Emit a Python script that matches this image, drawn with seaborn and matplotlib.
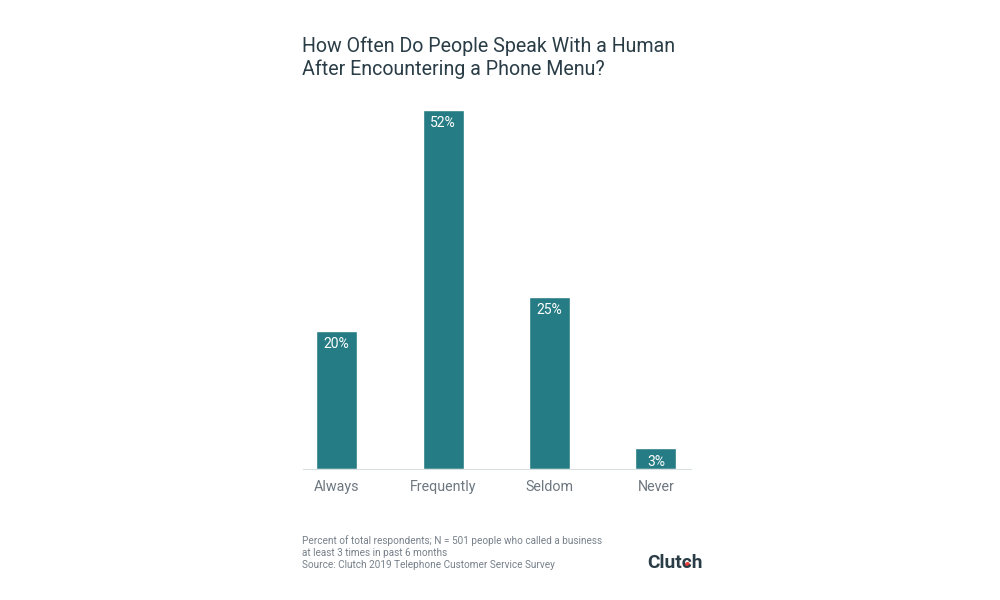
import pandas as pd
import seaborn as sns
import matplotlib.pyplot as plt
from matplotlib.lines import Line2D

categories = ["Always", "Frequently", "Seldom", "Never"]
values = [20, 52, 25, 3]
value_labels = ["20%", "52%", "25%", "3%"]

title = "How Often Do People Speak With a Human\nAfter Encountering a Phone Menu?"
footnote = ("Percent of total respondents; N = 501 people who called a business\n"
            "at least 3 times in past 6 months\n"
            "Source: Clutch 2019 Telephone Customer Service Survey")

sns.set_theme(style="white")
plt.rcParams["font.family"] = ["Roboto", "DejaVu Sans"]

df = pd.DataFrame({"answer": categories, "percent": values})

fig = plt.figure(figsize=(10, 6), dpi=100)
ax = fig.add_axes([0.303, 0.2180, 0.388, 0.6170])

sns.barplot(data=df, x="answer", y="percent", color="#267c84", saturation=1, width=0.385, ax=ax)

ax.set_xlim(-0.316, 3.33)
ax.set_ylim(0, 53.6)
ax.set_xlabel("")
ax.set_ylabel("")
ax.set_yticks([])
ax.tick_params(axis="x", length=0, labelsize=10.3, labelcolor="#6d7780", pad=7.5)
sns.despine(ax=ax, left=True)
ax.spines["bottom"].set_color("#d9dee1")
ax.spines["bottom"].set_linewidth(0.8)

# labels inside the top of each bar
for bars in ax.containers:
    ax.bar_label(bars, labels=value_labels, label_type="edge", padding=-14.5, color="white", fontsize=10)

fig.text(0.3025, 0.9035, title, fontsize=14.15, color="#2a3d47", va="center", ha="left", linespacing=1.24)
fig.text(0.3025, 0.0795, footnote, fontsize=7.2, color="#77808a", va="center", ha="left", linespacing=1.25)

# logo
fig.text(0.647, 0.0615, "Clutch", fontsize=13.8, fontweight="bold", color="#2a3d47", va="center", ha="left")
fig.add_artist(Line2D([0.687], [0.0595], marker="o", markersize=2.6, color="#e8413c", transform=fig.transFigure))

fig.savefig("out.png", dpi=100, facecolor="white")
